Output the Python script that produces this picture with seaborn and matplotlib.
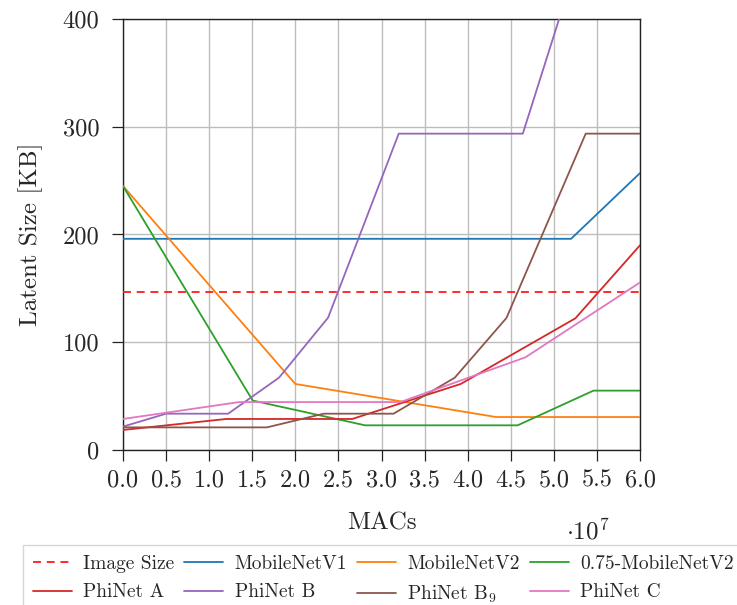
import matplotlib
matplotlib.use("Agg")
import matplotlib.pyplot as plt
import matplotlib.ticker as mticker
from matplotlib.lines import Line2D
import seaborn as sns

# Latent memory (KB) versus MACs for each network family
image_size_kb = 147

mobilenet_v1_macs = [0.0, 5.2e7, 6.0e7]
mobilenet_v1_kb = [196, 196, 257]

mobilenet_v2_macs = [0.0, 2.0e7, 4.33e7, 6.0e7]
mobilenet_v2_kb = [245, 61.3, 30.6, 30.6]

mobilenet_v2_075_macs = [0.0, 1.505e7, 2.81e7, 4.58e7, 5.46e7, 6.0e7]
mobilenet_v2_075_kb = [245, 45.9, 22.9, 22.9, 55.1, 55.1]

phinet_a_macs = [0.0, 1.2e7, 2.66e7, 3.92e7, 5.25e7, 6.0e7]
phinet_a_kb = [18.6, 28.8, 28.8, 61.3, 122.2, 190]

phinet_b_macs = [0.0, 0.5e7, 1.22e7, 1.81e7, 2.38e7, 3.2e7, 4.64e7, 6.0e7]
phinet_b_kb = [21.7, 33.7, 33.7, 67.1, 122.8, 293.6, 293.6, 637]

phinet_b9_macs = [0.0, 1.67e7, 2.33e7, 3.14e7, 3.85e7, 4.45e7, 5.37e7, 6.0e7]
phinet_b9_kb = [21.0, 21.0, 33.7, 33.7, 67.1, 122.5, 293.6, 293.6]

phinet_c_macs = [0.0, 1.35e7, 3.22e7, 4.67e7, 6.0e7]
phinet_c_kb = [28.8, 44.5, 44.5, 86, 155.5]

series = [
    ("MobileNetV1", mobilenet_v1_macs, mobilenet_v1_kb, "#1f77b4"),
    ("MobileNetV2", mobilenet_v2_macs, mobilenet_v2_kb, "#ff7f0e"),
    ("0.75-MobileNetV2", mobilenet_v2_075_macs, mobilenet_v2_075_kb, "#2ca02c"),
    ("PhiNet A", phinet_a_macs, phinet_a_kb, "#d62728"),
    ("PhiNet B", phinet_b_macs, phinet_b_kb, "#9467bd"),
    ("PhiNet B$_9$", phinet_b9_macs, phinet_b9_kb, "#8c564b"),
    ("PhiNet C", phinet_c_macs, phinet_c_kb, "#e377c2"),
]

sns.set_theme(style="whitegrid")
plt.rcParams["font.family"] = ["cmr10", "DejaVu Serif"]
plt.rcParams["mathtext.fontset"] = "cm"
plt.rcParams["axes.unicode_minus"] = False
plt.rcParams["axes.formatter.use_mathtext"] = True

fig = plt.figure(figsize=(7.37, 6.05), dpi=100)
ax = fig.add_axes([123 / 737, 1 - 450 / 605, (640 - 123) / 737, (450 - 19) / 605])

lw = 1.3
dash = (0, (4.4, 3.2))
image_color = "#ff1a1a"
handles = []
ax.axhline(image_size_kb, color=image_color, lw=lw, linestyle=dash, zorder=3)
handles.append(Line2D([], [], color=image_color, lw=lw, linestyle=dash, label="Image Size"))
for name, macs, kb, color in series:
    sns.lineplot(x=macs, y=kb, ax=ax, color=color, lw=lw, estimator=None,
                 sort=False, legend=False, zorder=3)
    handles.append(Line2D([], [], color=color, lw=lw, label=name))

ax.set_xlim(0, 6.0e7)
ax.set_ylim(0, 400)
ax.xaxis.set_major_locator(mticker.MultipleLocator(0.5e7))
ax.yaxis.set_major_locator(mticker.MultipleLocator(100))
ax.xaxis.set_major_formatter(mticker.FuncFormatter(lambda v, p: f"{v / 1e7:.1f}"))
ax.yaxis.set_major_formatter(mticker.FuncFormatter(lambda v, p: f"{v:.0f}"))

ax.grid(True, color="#bdbdbd", lw=1.0)
for sp in ax.spines.values():
    sp.set_color("#222222")
    sp.set_linewidth(1.0)
ax.tick_params(axis="both", which="major", direction="out", length=8, width=0.9,
               color="#222222", labelsize=17.5, bottom=True, left=True)
ax.tick_params(axis="x", pad=6)
ax.tick_params(axis="y", pad=9)

ax.set_xlabel("MACs", fontsize=18, labelpad=15)
ax.set_ylabel("Latent Size [KB]", fontsize=18, labelpad=14)
ax.text(0.899, -0.188, r"$\cdot 10^{7}$", transform=ax.transAxes, fontsize=18,
        ha="center", va="center")

# Row-major order for a 4-column legend
order = [0, 4, 1, 5, 2, 6, 3, 7]
leg = fig.legend([handles[i] for i in order], [handles[i].get_label() for i in order],
                 loc="upper left", bbox_to_anchor=(23 / 737, 1 - 545 / 605), ncol=4,
                 fontsize=14, frameon=True, fancybox=False, handlelength=2.0,
                 handletextpad=0.6, columnspacing=0.5, borderpad=0.5,
                 labelspacing=0.55, borderaxespad=0)
leg.get_frame().set_edgecolor("#cccccc")
leg.get_frame().set_linewidth(1.0)

fig.savefig("out.png", dpi=100)
